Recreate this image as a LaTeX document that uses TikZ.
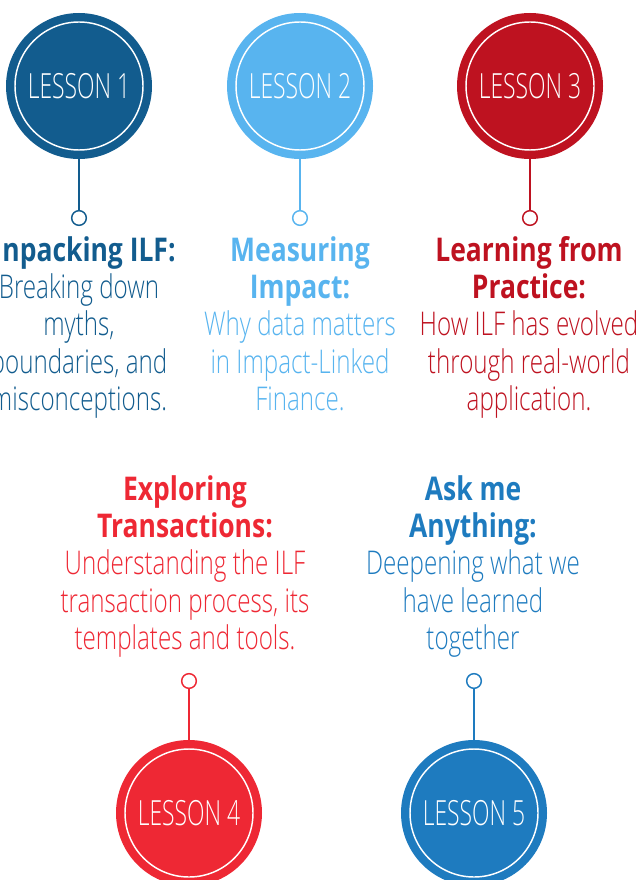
\documentclass[tikz,border=0pt]{standalone}
\usepackage{fontspec}
\IfFontExistsTF{Open Sans Light}{%
  \newfontfamily\bodyf{Open Sans Light}[FakeStretch=0.74]%
  \newfontfamily\lessonf{Open Sans Light}[FakeStretch=0.66]%
}{%
  \newfontfamily\bodyf{Open Sans}[FakeStretch=0.74]%
  \newfontfamily\lessonf{Open Sans}[FakeStretch=0.66]%
}
\newfontfamily\titlef{Open Sans}[FakeStretch=0.81]
\definecolor{cA}{HTML}{125C8E}
\definecolor{cB}{HTML}{58B4EF}
\definecolor{cC}{HTML}{BE1220}
\definecolor{cD}{HTML}{EE2834}
\definecolor{cE}{HTML}{1E7BBF}
\newcommand{\ttl}[1]{{\titlef\bfseries #1}}
\newcommand{\fl}{\rule{0pt}{20pt}}
\tikzset{
  big/.style={circle, fill=#1, minimum size=109.5pt, inner sep=0pt,
    text=white, font=\lessonf\fontsize{26}{28}\selectfont},
  dot/.style={circle, draw=#1, fill=white, line width=1.1pt, minimum size=11pt, inner sep=0pt},
  stem/.style={draw=#1, line width=1.1pt},
  ring/.style={draw=white, line width=1.1pt},
  txt/.style={text=#1, anchor=north, align=center, inner sep=0pt,
    font=\bodyf\fontsize{24.5}{28}\selectfont}
}
\begin{document}
\begin{tikzpicture}[x=0.75pt,y=-0.75pt]
\useasboundingbox (0,0) rectangle (640,880);
\clip (0,0) rectangle (640,880);
% top row
\node[big=cA] (c1) at (79,86) {LESSON 1};
\node[big=cB] (c2) at (300,86) {LESSON 2};
\node[big=cC] (c3) at (530,86) {LESSON 3};
\draw[ring] (c1.center) circle[radius=64];
\draw[ring] (c2.center) circle[radius=64];
\draw[ring] (c3.center) circle[radius=64];
\node[dot=cA] (d1) at (79,218) {};
\node[dot=cB] (d2) at (300,218) {};
\node[dot=cC] (d3) at (530,218) {};
\draw[stem=cA] (c1.south) -- (d1.north);
\draw[stem=cB] (c2.south) -- (d2.north);
\draw[stem=cC] (c3.south) -- (d3.north);
\node[txt=cA] (t1) at (79,234.3) {\fl\ttl{Unpacking ILF:}\\Breaking down\\myths,\\boundaries, and\\misconceptions.};
\node[txt=cB] (t2) at (300,234.3) {\fl\ttl{Measuring}\\\ttl{Impact:}\\Why data matters\\in Impact-Linked\\Finance.};
\node[txt=cC] (t3) at (529,234.3) {\fl\ttl{Learning from}\\\ttl{Practice:}\\How ILF has evolved\\through real-world\\application.};
% bottom row
\node[txt=cD] (t4) at (185,473.3) {\fl\ttl{Exploring}\\\ttl{Transactions:}\\Understanding the ILF\\transaction process, its\\templates and tools.};
\node[txt=cE] (t5) at (473,473.3) {\fl\ttl{Ask me}\\\ttl{Anything:}\\Deepening what we\\have learned\\together};
\node[big=cD] (c4) at (189,813) {LESSON 4};
\node[big=cE] (c5) at (474,813) {LESSON 5};
\draw[ring] (c4.center) circle[radius=64];
\draw[ring] (c5.center) circle[radius=64];
\node[dot=cD] (d4) at (189,681) {};
\node[dot=cE] (d5) at (474,681) {};
\draw[stem=cD] (d4.south) -- (c4.north);
\draw[stem=cE] (d5.south) -- (c5.north);
\end{tikzpicture}
\end{document}
